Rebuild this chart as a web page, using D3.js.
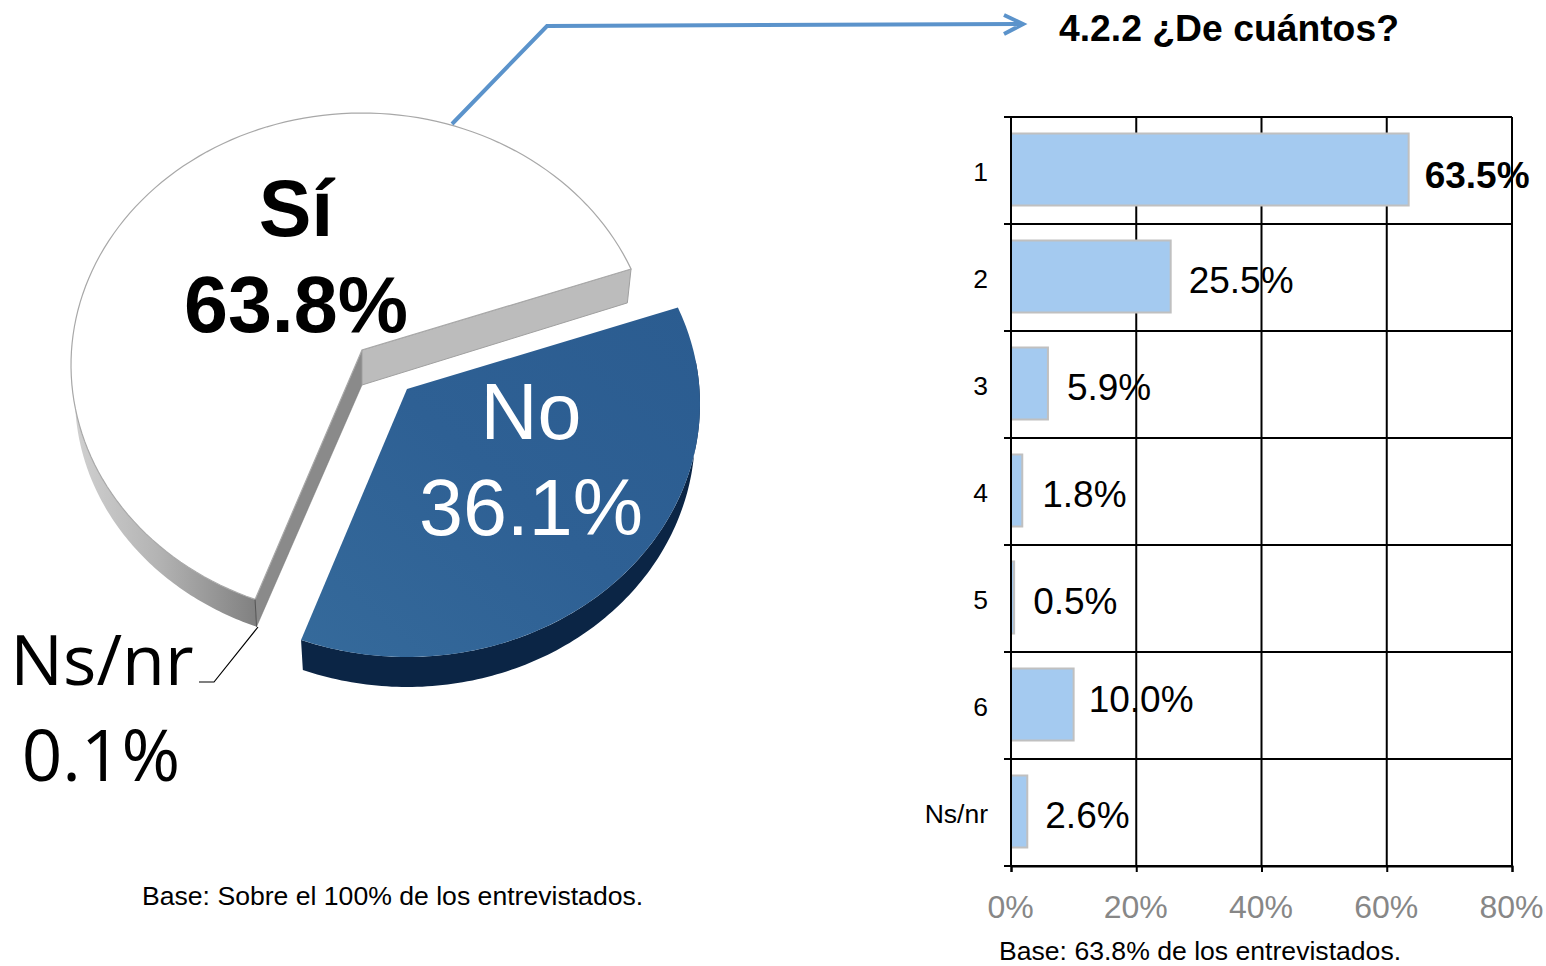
<!DOCTYPE html>
<html><head><meta charset="utf-8">
<style>html,body{margin:0;padding:0;background:#fff}svg{display:block}text{font-family:"Liberation Sans",Arial,sans-serif}</style>
<script src="https://cdn.jsdelivr.net/npm/d3@7"></script></head><body>
<script>
const pieLabels = ["No", "Ns/nr", "Sí"];
const pieValues = [36.1, 0.1, 63.8];
const barCategories = ["1", "2", "3", "4", "5", "6", "Ns/nr"];
const barValues = [63.5, 25.5, 5.9, 1.8, 0.5, 10.0, 2.6];
const barTicks = [0, 20, 40, 60, 80];

// manual label nudges of the original layout (dx, dy from bar end / row centre)
const labelNudge = [[16, 17.5], [18, 15.5], [19, 15], [20, 15], [19, 15], [15, 6.5], [18, 15]];

const svg = d3.select("body").append("svg").attr("width", 1546).attr("height", 966);
const defs = svg.append("defs");
const lg1 = defs.append("linearGradient").attr("id", "side").attr("gradientUnits", "userSpaceOnUse")
  .attr("x1", 75).attr("x2", 257).attr("y1", 0).attr("y2", 0);
[[0, "#d0d0d0"], [.45, "#b4b4b4"], [1, "#808080"]].forEach(s => lg1.append("stop").attr("offset", s[0]).attr("stop-color", s[1]));
const lg2 = defs.append("linearGradient").attr("id", "blue").attr("x1", 0).attr("x2", 1).attr("y1", 1).attr("y2", 0);
[[0, "#356a9b"], [.5, "#2e6094"], [1, "#2b5c90"]].forEach(s => lg2.append("stop").attr("offset", s[0]).attr("stop-color", s[1]));

/* ---------- pie ---------- */
const rad = Math.PI / 180;
const pieStart = 67.6 * rad;
const arcs = d3.pie().sort(null).value(d => d).startAngle(pieStart).endAngle(pieStart + 2 * Math.PI)(pieValues);
// tilt of the 3D projection: data angles -> angles on the drawn ellipse
const warp = d3.scaleLinear()
  .domain([pieStart, arcs[1].startAngle, pieStart + 2 * Math.PI])
  .range([67.6 * rad, 201.2 * rad, 427.6 * rad]);
const ell = (e, a) => [e.cx + e.rx * Math.sin(a), e.cy - e.ry * Math.cos(a)];
const rim = (e, a0, a1) => d3.range(0, 121).map(i => ell(e, a0 + (a1 - a0) * i / 120));
const line = d3.line();
const g = svg.append("g");

// Sí
{
  const a0 = warp(arcs[2].startAngle), a1 = warp(arcs[2].endAngle);
  const top = { cx: 362, cy: 365, rx: 291, ry: 252 }, bot = { cx: 362, cy: 397, rx: 287, ry: 247 };
  const apex = [362, 350], apexB = [362, 385];
  const sideEnd = a0 + 90 * rad;
  g.append("path").attr("fill", "url(#side)")
    .attr("d", line([...rim(top, a0, sideEnd), ...rim(bot, sideEnd, a0)]) + "Z");
  g.append("path").attr("fill", "#8a8a8a").attr("stroke", "#777").attr("stroke-width", .5)
    .attr("d", line([apex, apexB, ell(bot, a0), ell(top, a0)]) + "Z");
  g.append("path").attr("fill", "#bcbcbc").attr("stroke", "#a0a0a0").attr("stroke-width", 1)
    .attr("d", line([apex, apexB, ell(bot, a1), ell(top, a1)]) + "Z");
  g.append("path").attr("fill", "#fff").attr("stroke", "#a8a8a8").attr("stroke-width", 1.2)
    .attr("d", line([apex, ...rim(top, a0, a1)]) + "Z");
  g.append("line").attr("x1", ell(top, a0)[0]).attr("y1", ell(top, a0)[1]).attr("x2", ell(bot, a0)[0]).attr("y2", ell(bot, a0)[1]).attr("stroke", "#555").attr("stroke-width", 1);
}
// No
{
  const a0 = warp(arcs[0].startAngle), a1 = warp(arcs[0].endAngle);
  const top = { cx: 407, cy: 404, rx: 293, ry: 253 }, bot = { cx: 407, cy: 434, rx: 288, ry: 253 };
  g.append("path").attr("fill", "#0b2545")
    .attr("d", line([...rim(top, 80 * rad, a1), ...rim(bot, a1, 80 * rad)]) + "Z");
  g.append("path").attr("fill", "url(#blue)")
    .attr("d", line([[407, 389], ...rim(top, a0, a1)]) + "Z");
}

// pieces of annotation
g.append("path").attr("fill", "none").attr("stroke", "#000").attr("stroke-width", 1.2)
  .attr("d", "M258,627L214,682L199,682");
svg.append("path").attr("fill", "none").attr("stroke", "#5b93cb").attr("stroke-width", 4)
  .attr("d", "M452,124L547,26L1022,24M1004,15L1023,24L1004,34");

const T = (x, y, s, size, o = {}) => svg.append("text").attr("x", x).attr("y", y).text(s)
  .attr("font-size", size).attr("text-anchor", o.anchor || "start").attr("fill", o.fill || "#000")
  .attr("font-weight", o.weight || "normal").style("font-family", o.family || null);

T(296, 236, pieLabels[2], 79, { anchor: "middle", weight: "bold" });
T(296, 332, pieValues[2].toFixed(1) + "%", 79, { anchor: "middle", weight: "bold" });
T(531, 439, pieLabels[0], 79, { anchor: "middle", fill: "#fff" });
T(531, 535, pieValues[0].toFixed(1) + "%", 79, { anchor: "middle", fill: "#fff" });
T(102, 685, pieLabels[1], 70, { anchor: "middle", family: '"Open Sans"' });
T(101, 781, pieValues[1].toFixed(1) + "%", 71, { anchor: "middle", family: '"Open Sans"' });

T(1059, 41, "4.2.2 ¿De cuántos?", 37.3, { weight: "bold" });
T(142, 905, "Base: Sobre el 100% de los entrevistados.", 26.6);
T(999, 960, "Base: 63.8% de los entrevistados.", 26.6);

/* ---------- bars ---------- */
const x = d3.scaleLinear().domain([0, 80]).range([1011, 1512]);
const y = d3.scaleBand().domain(barCategories).range([117, 866]).paddingInner(0).paddingOuter(0);
const chart = svg.append("g");

// vertical grid + x ticks
const xAxis = chart.append("g").attr("transform", "translate(0,866)")
  .call(d3.axisBottom(x).tickValues(barTicks).tickFormat(d => d + "%").tickSize(6).tickPadding(23));
xAxis.select(".domain").attr("stroke", "#000").attr("stroke-width", 2);
xAxis.selectAll(".tick line").attr("stroke", "#000").attr("stroke-width", 2);
xAxis.selectAll(".tick text").attr("fill", "#878787").attr("font-size", 32).attr("dx", -1).style("font-family", '"Liberation Sans"');
chart.selectAll("line.vgrid").data(barTicks).join("line").attr("class", "vgrid")
  .attr("x1", d => x(d)).attr("x2", d => x(d)).attr("y1", 117).attr("y2", 866)
  .attr("stroke", "#000").attr("stroke-width", 2);

// horizontal grid at band edges
const edges = [...barCategories.map(c => y(c)), y.range()[1]];
chart.selectAll("line.hgrid").data(edges).join("line").attr("class", "hgrid")
  .attr("x1", 1004).attr("x2", 1512).attr("y1", d => d).attr("y2", d => d)
  .attr("stroke", "#000").attr("stroke-width", 2);

// bars sit over the grid
chart.selectAll("rect.bar").data(barValues).join("rect").attr("class", "bar")
  .attr("x", x(0)).attr("width", d => x(d) - x(0))
  .attr("y", (d, i) => y(barCategories[i]) + 16.5).attr("height", y.bandwidth() - 35)
  .attr("fill", "#a4caf0").attr("stroke", "#c0c0c0").attr("stroke-width", 2);
chart.append("line").attr("x1", x(0)).attr("x2", x(0)).attr("y1", 117).attr("y2", 866)
  .attr("stroke", "#000").attr("stroke-width", 2);

// category axis
const yAxis = chart.append("g").attr("transform", "translate(1011,2)")
  .call(d3.axisLeft(y).tickSize(0).tickPadding(23));
yAxis.select(".domain").remove();
yAxis.selectAll(".tick text").attr("fill", "#000").attr("font-size", 26.5).style("font-family", '"Liberation Sans"');

// value labels
chart.selectAll("text.val").data(barValues).join("text").attr("class", "val")
  .attr("x", (d, i) => x(d) + labelNudge[i][0])
  .attr("y", (d, i) => y(barCategories[i]) + y.bandwidth() / 2 + labelNudge[i][1])
  .attr("font-size", 37).attr("font-weight", (d, i) => i === 0 ? "bold" : "normal")
  .attr("fill", "#000").text(d => d.toFixed(1) + "%");
</script>
</body></html>
